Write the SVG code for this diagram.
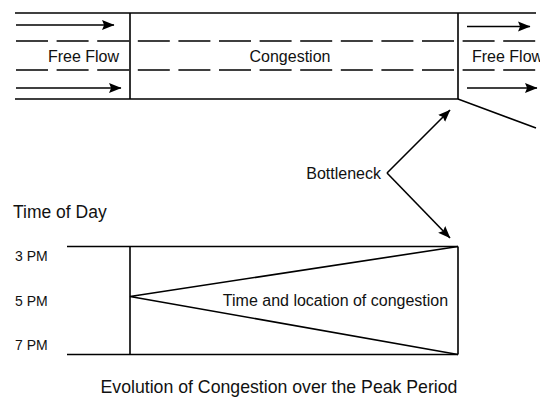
<svg xmlns="http://www.w3.org/2000/svg" width="540" height="401" viewBox="0 0 540 401">
  <defs>
    <style>
      .ln { stroke: #000; stroke-width: 1.6; fill: none; }
      .dash { stroke: #000; stroke-width: 1.6; fill: none; stroke-dasharray: 32 8.6; }
      .arr { stroke: #000; stroke-width: 1.6; fill: none; marker-end: url(#head); }
      .t { font-family: "Liberation Sans", Arial, Helvetica, sans-serif; fill: #111; }
    </style>
    <marker id="head" viewBox="0 0 12 10" refX="11.5" refY="5" markerWidth="12.5" markerHeight="10.5" markerUnits="userSpaceOnUse" orient="auto">
      <path d="M0,0.3 L12,5 L0,9.7 L2,5 z" fill="#000"/>
    </marker>
  </defs>
  <rect width="540" height="401" fill="#fff"/>

  <!-- road plan: edges, lane markings, section breaks -->
  <g id="road">
    <line class="ln" x1="15" y1="13" x2="536" y2="13"/>
    <polyline class="ln" points="15,99 458,99 536,128"/>
    <line class="dash" x1="16" y1="41" x2="536" y2="41"/>
    <line class="dash" x1="16" y1="70" x2="536" y2="70"/>
    <line class="ln" x1="130" y1="13" x2="130" y2="99"/>
    <line class="ln" x1="458" y1="13" x2="458" y2="99"/>
  </g>

  <!-- traffic direction arrows -->
  <g id="flow-arrows">
    <line class="arr" x1="16" y1="25" x2="114" y2="25"/>
    <line class="arr" x1="16" y1="88" x2="121" y2="88"/>
    <line class="arr" x1="467" y1="26.5" x2="530" y2="26.5"/>
    <line class="arr" x1="467" y1="88" x2="537" y2="88"/>
  </g>

  <g id="free-flow-left">
    <text class="t" x="83.5" y="62" font-size="16" text-anchor="middle">Free Flow</text>
  </g>
  <g id="congestion">
    <text class="t" x="290" y="62" font-size="16" text-anchor="middle">Congestion</text>
  </g>
  <g id="free-flow-right">
    <text class="t" x="472" y="62" font-size="16">Free Flow</text>
  </g>

  <g id="bottleneck">
    <text class="t" x="381" y="178.5" font-size="16" text-anchor="end">Bottleneck</text>
  </g>

  <!-- bottleneck pointers -->
  <g id="connectors">
    <line class="arr" x1="387" y1="173" x2="450" y2="110"/>
    <line class="arr" x1="387" y1="173" x2="450" y2="238"/>
  </g>

  <!-- time-space chart -->
  <g id="time-axis">
    <text class="t" x="13" y="218" font-size="17.5">Time of Day</text>
    <text class="t" x="15" y="261" font-size="14">3 PM</text>
    <text class="t" x="15" y="305.5" font-size="14">5 PM</text>
    <text class="t" x="15" y="350" font-size="14">7 PM</text>
  </g>
  <g id="chart">
    <line class="ln" x1="67" y1="246.5" x2="458" y2="246.5"/>
    <line class="ln" x1="67" y1="354.5" x2="458" y2="354.5"/>
    <line class="ln" x1="130" y1="246.5" x2="130" y2="354.5"/>
    <line class="ln" x1="458" y1="246.5" x2="458" y2="354.5"/>
    <polyline class="ln" points="458,246.5 130,296.5 458,354.5"/>
    <text class="t" x="335.5" y="306" font-size="16" text-anchor="middle">Time and location of congestion</text>
  </g>

  <g id="caption">
    <text class="t" x="279" y="393" font-size="17.7" text-anchor="middle">Evolution of Congestion over the Peak Period</text>
  </g>
</svg>
